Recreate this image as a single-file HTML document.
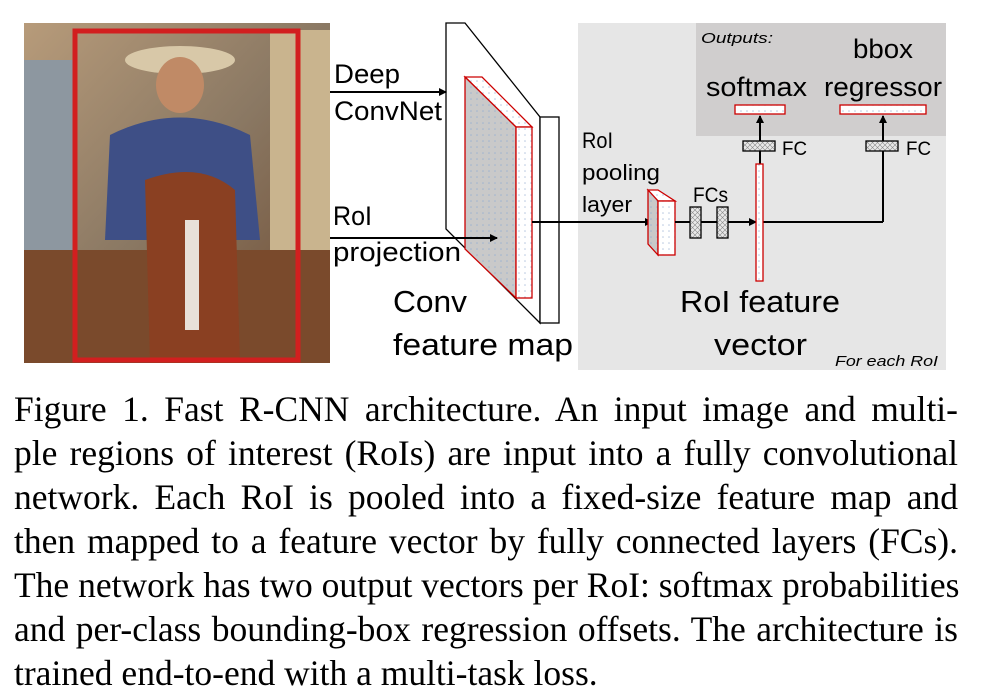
<!DOCTYPE html>
<html><head><meta charset="utf-8"><style>
html,body{margin:0;padding:0;background:#fff;width:1000px;height:697px;overflow:hidden}
.cap{position:absolute;left:14px;width:944px;font-family:"Liberation Serif",serif;font-size:35.5px;color:#000;text-align:justify;text-align-last:justify;white-space:nowrap;line-height:36px}
.last{text-align-last:left}
</style></head><body>
<svg width="1000" height="380" style="position:absolute;left:0;top:0" font-family="Liberation Sans, DejaVu Sans, sans-serif">
<defs>
<pattern id="dots" width="6" height="6" patternUnits="userSpaceOnUse"><rect width="6" height="6" fill="#c9c9c9"/><circle cx="3" cy="3" r="0.8" fill="#9fb4d0"/></pattern>
<pattern id="wdots" width="6" height="6" patternUnits="userSpaceOnUse"><rect width="6" height="6" fill="#fff"/><circle cx="3" cy="3" r="0.8" fill="#b8c8e0"/></pattern>
<pattern id="hatch" width="5" height="5" patternUnits="userSpaceOnUse"><rect width="5" height="5" fill="#e8e8e8"/><path d="M0 0L5 5M5 0L0 5" stroke="#888" stroke-width="0.6"/></pattern>
<marker id="ar" markerWidth="8" markerHeight="8" refX="7" refY="4" orient="auto" markerUnits="userSpaceOnUse"><path d="M0 0L8 4L0 8z" fill="#000"/></marker>
<linearGradient id="bg" x1="0" y1="0" x2="1" y2="1"><stop offset="0" stop-color="#b79b7a"/><stop offset="0.5" stop-color="#8a7863"/><stop offset="1" stop-color="#6e4a30"/></linearGradient>
</defs>
<rect x="24" y="23" width="306" height="340" fill="url(#bg)"/>
<rect x="24" y="60" width="50" height="200" fill="#8d97a0"/>
<rect x="270" y="30" width="60" height="230" fill="#c9b48e"/>
<rect x="24" y="250" width="306" height="113" fill="#7a4a2c"/>
<ellipse cx="180" cy="60" rx="55" ry="14" fill="#d8c8a8"/>
<ellipse cx="180" cy="85" rx="24" ry="28" fill="#c08a66"/>
<path d="M110 135 Q180 100 250 135 L260 240 L105 240 Z" fill="#3e4f86"/>
<path d="M145 180 Q200 160 235 190 L240 363 L150 363 Z" fill="#8a4022"/>
<rect x="185" y="220" width="14" height="110" fill="#e8e0d8"/>
<rect x="75" y="31" width="223" height="329" fill="none" stroke="#d21f1f" stroke-width="5"/>
<polygon points="446,23 465,23 540,117 540,323 446,229" fill="#fff" stroke="#000" stroke-width="1.3"/>
<rect x="540" y="117" width="19" height="206" fill="#fff" stroke="#000" stroke-width="1.3"/>
<polygon points="465,77 482,77 532,127 516,127" fill="url(#wdots)" stroke="#c00" stroke-width="1.3"/>
<polygon points="465,77 516,127 516,298 465,249" fill="url(#dots)" stroke="#c00" stroke-width="1.3"/>
<rect x="516" y="127" width="16" height="171" fill="url(#wdots)" stroke="#c00" stroke-width="1.3"/>
<line x1="330" y1="92" x2="446" y2="92" stroke="#000" stroke-width="2" marker-end="url(#ar)"/>
<line x1="330" y1="238" x2="497" y2="238" stroke="#000" stroke-width="2" marker-end="url(#ar)"/>
<rect x="578" y="23" width="368" height="347" fill="#e6e6e6"/>
<rect x="696" y="23" width="250" height="113" fill="#d0cece"/>
<line x1="532" y1="222" x2="578" y2="222" stroke="#000" stroke-width="2"/>
<line x1="578" y1="222" x2="652" y2="222" stroke="#000" stroke-width="2" marker-end="url(#ar)"/>
<polygon points="648,190 658,190 675,201 658,201" fill="url(#wdots)" stroke="#c00" stroke-width="1.3"/>
<polygon points="648,190 658,201 658,255 648,244" fill="url(#dots)" stroke="#c00" stroke-width="1.3"/>
<rect x="658" y="201" width="17" height="54" fill="url(#wdots)" stroke="#c00" stroke-width="1.3"/>
<line x1="675" y1="222" x2="756" y2="222" stroke="#000" stroke-width="2" marker-end="url(#ar)"/>
<rect x="690" y="207" width="11" height="31" fill="url(#hatch)" stroke="#000" stroke-width="1.3"/>
<rect x="717" y="207" width="11" height="31" fill="url(#hatch)" stroke="#000" stroke-width="1.3"/>
<line x1="763" y1="222" x2="883" y2="222" stroke="#000" stroke-width="2"/>
<line x1="883" y1="222" x2="883" y2="116" stroke="#000" stroke-width="2" marker-end="url(#ar)"/>
<line x1="760" y1="164" x2="760" y2="116" stroke="#000" stroke-width="2" marker-end="url(#ar)"/>
<rect x="756" y="164" width="7" height="117" fill="url(#wdots)" stroke="#c00" stroke-width="1.3"/>
<rect x="743" y="141" width="32" height="10" fill="url(#hatch)" stroke="#000" stroke-width="1.3"/>
<rect x="866" y="141" width="32" height="10" fill="url(#hatch)" stroke="#000" stroke-width="1.3"/>
<rect x="735" y="105" width="50" height="9" fill="url(#wdots)" stroke="#c00" stroke-width="1.3"/>
<rect x="840" y="105" width="86" height="9" fill="url(#wdots)" stroke="#c00" stroke-width="1.3"/>
<g fill="#000">
<text x="334" y="83" font-size="27" textLength="66" lengthAdjust="spacingAndGlyphs">Deep</text>
<text x="334" y="120" font-size="27" textLength="108" lengthAdjust="spacingAndGlyphs">ConvNet</text>
<text x="333" y="225" font-size="27" textLength="39" lengthAdjust="spacingAndGlyphs">RoI</text>
<text x="333" y="261" font-size="27" textLength="128" lengthAdjust="spacingAndGlyphs">projection</text>
<text x="393" y="312" font-size="31" textLength="74" lengthAdjust="spacingAndGlyphs">Conv</text>
<text x="393" y="355" font-size="31" textLength="180" lengthAdjust="spacingAndGlyphs">feature map</text>
<text x="582" y="148" font-size="22" textLength="31" lengthAdjust="spacingAndGlyphs">RoI</text>
<text x="582" y="180" font-size="22" textLength="78" lengthAdjust="spacingAndGlyphs">pooling</text>
<text x="582" y="212" font-size="22" textLength="50" lengthAdjust="spacingAndGlyphs">layer</text>
<text x="693" y="202" font-size="21" textLength="35" lengthAdjust="spacingAndGlyphs">FCs</text>
<text x="782" y="155" font-size="19" textLength="25" lengthAdjust="spacingAndGlyphs">FC</text>
<text x="906" y="155" font-size="19" textLength="25" lengthAdjust="spacingAndGlyphs">FC</text>
<text x="701" y="43" font-size="15" font-style="italic" textLength="72" lengthAdjust="spacingAndGlyphs">Outputs:</text>
<text x="706" y="96" font-size="27" textLength="101" lengthAdjust="spacingAndGlyphs">softmax</text>
<text x="853" y="58" font-size="27" textLength="60" lengthAdjust="spacingAndGlyphs">bbox</text>
<text x="824" y="96" font-size="27" textLength="118" lengthAdjust="spacingAndGlyphs">regressor</text>
<text x="680" y="312" font-size="31" textLength="160" lengthAdjust="spacingAndGlyphs">RoI feature</text>
<text x="714" y="355" font-size="31" textLength="93" lengthAdjust="spacingAndGlyphs">vector</text>
<text x="835" y="366" font-size="15" font-style="italic" textLength="103" lengthAdjust="spacingAndGlyphs">For each RoI</text>
</g>
</svg>
<div class="cap" style="top:391px">Figure 1. Fast R-CNN architecture. An input image and multi-</div>
<div class="cap" style="top:435px">ple regions of interest (RoIs) are input into a fully convolutional</div>
<div class="cap" style="top:479px">network. Each RoI is pooled into a fixed-size feature map and</div>
<div class="cap" style="top:523px">then mapped to a feature vector by fully connected layers (FCs).</div>
<div class="cap" style="top:567px">The network has two output vectors per RoI: softmax probabilities</div>
<div class="cap" style="top:611px">and per-class bounding-box regression offsets. The architecture is</div>
<div class="cap last" style="top:655px">trained end-to-end with a multi-task loss.</div>
</body></html>
